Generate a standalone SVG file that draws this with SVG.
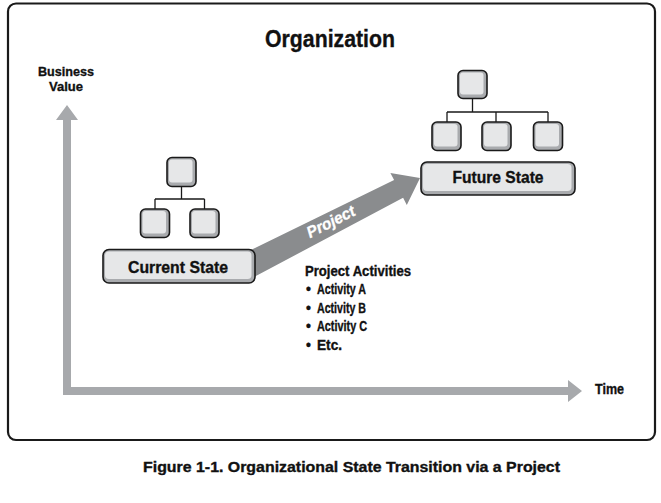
<svg xmlns="http://www.w3.org/2000/svg" width="661" height="503" viewBox="0 0 661 503">
<defs>
<style>
text{font-family:"Liberation Sans Narrow","Liberation Sans",Arial,sans-serif;font-weight:bold;fill:#111;stroke:#111;stroke-width:0.35}
.box-o{fill:#a9abae;stroke:#1a1a1a;stroke-width:1.6}
.box-i{fill:#e6e7e8}
.line{stroke:#1a1a1a;stroke-width:1.3;fill:none}
.axis{fill:#a7a9ac}
.proj{fill:#8a8c8e}
.wt{fill:#ffffff;stroke:#ffffff;stroke-width:0.3}
</style>
</defs>
<rect width="661" height="503" fill="#ffffff"/>
<rect id="frame" x="8" y="3.5" width="647" height="436.5" rx="8" fill="none" stroke="#1a1a1a" stroke-width="2.2"/>
<text id="title" x="330" y="47" font-size="24.5" text-anchor="middle" textLength="130" lengthAdjust="spacingAndGlyphs">Organization</text>

<g id="axes">
<polygon class="axis" points="63,120 56,120 67,105 78,120 71,120 71,387 568,387 568,380 582,391 568,402 568,395 63,395"/>
</g>
<g id="y-label">
<text x="66" y="76" font-size="13.5" text-anchor="middle" textLength="56" lengthAdjust="spacingAndGlyphs">Business</text>
<text x="66" y="91" font-size="13.5" text-anchor="middle" textLength="34" lengthAdjust="spacingAndGlyphs">Value</text>
</g>
<g id="x-label">
<text x="595" y="394" font-size="14" textLength="29" lengthAdjust="spacingAndGlyphs">Time</text>
</g>

<g id="connectors">
<polygon id="project-arrow" class="proj" points="234.1,258.1 394.1,180 390.4,172.9 420,178 406.8,204.9 403.1,197.8 245.9,281.3"/>
<text class="wt" x="331" y="227" font-size="16" font-style="italic" text-anchor="middle" transform="rotate(-27 331 222)" textLength="52" lengthAdjust="spacingAndGlyphs">Project</text>
<path class="line" d="M181.5,186V199M155,199H204.5M155,199V209M204.5,199V209"/>
<path class="line" d="M472.5,98V112M447,112H548M447,112V122M496,112V122M548,112V122"/>
</g>

<g id="current-state">
<g id="cs-top"><rect class="box-o" x="167" y="157.5" width="29" height="29" rx="5"/><rect class="box-i" x="169" y="159.5" width="23.5" height="23" rx="3"/></g>
<g id="cs-left"><rect class="box-o" x="140.5" y="209" width="29" height="28.5" rx="5"/><rect class="box-i" x="142.5" y="211" width="23.5" height="22.5" rx="3"/></g>
<g id="cs-right"><rect class="box-o" x="190" y="209" width="29" height="28.5" rx="5"/><rect class="box-i" x="192" y="211" width="23.5" height="22.5" rx="3"/></g>
<g id="cs-box"><rect class="box-o" x="103" y="249.5" width="152" height="33.5" rx="6"/><rect class="box-i" x="105" y="251.5" width="146.5" height="27.5" rx="4"/>
<text x="178" y="273" font-size="16" text-anchor="middle" textLength="100" lengthAdjust="spacingAndGlyphs">Current State</text></g>
</g>

<g id="future-state">
<g id="fs-top"><rect class="box-o" x="458" y="70.5" width="29" height="28" rx="5"/><rect class="box-i" x="460" y="72.5" width="23.5" height="22" rx="3"/></g>
<g id="fs-left"><rect class="box-o" x="432" y="122" width="29" height="28.5" rx="5"/><rect class="box-i" x="434" y="124" width="23.5" height="22.5" rx="3"/></g>
<g id="fs-mid"><rect class="box-o" x="482" y="122" width="29" height="28.5" rx="5"/><rect class="box-i" x="484" y="124" width="23.5" height="22.5" rx="3"/></g>
<g id="fs-right"><rect class="box-o" x="533.5" y="122" width="29" height="28.5" rx="5"/><rect class="box-i" x="535.5" y="124" width="23.5" height="22.5" rx="3"/></g>
<g id="fs-box"><rect class="box-o" x="421" y="162" width="154" height="33" rx="6"/><rect class="box-i" x="423" y="164" width="148.5" height="27" rx="4"/>
<text x="498" y="182.5" font-size="16" text-anchor="middle" textLength="91" lengthAdjust="spacingAndGlyphs">Future State</text></g>
</g>

<g id="activities">
<text x="305" y="275.5" font-size="14" textLength="106" lengthAdjust="spacingAndGlyphs">Project Activities</text>
<text y="294" font-size="14"><tspan x="306">•</tspan><tspan x="317" textLength="49" lengthAdjust="spacingAndGlyphs">Activity A</tspan></text>
<text y="312.5" font-size="14"><tspan x="306">•</tspan><tspan x="317" textLength="49" lengthAdjust="spacingAndGlyphs">Activity B</tspan></text>
<text y="331" font-size="14"><tspan x="306">•</tspan><tspan x="317" textLength="50" lengthAdjust="spacingAndGlyphs">Activity C</tspan></text>
<text y="349.5" font-size="14"><tspan x="306">•</tspan><tspan x="317" textLength="25" lengthAdjust="spacingAndGlyphs">Etc.</tspan></text>
</g>

<g id="caption">
<text x="351.5" y="472" font-size="14.5" text-anchor="middle" textLength="417" lengthAdjust="spacingAndGlyphs">Figure 1-1. Organizational State Transition via a Project</text>
</g>
</svg>
